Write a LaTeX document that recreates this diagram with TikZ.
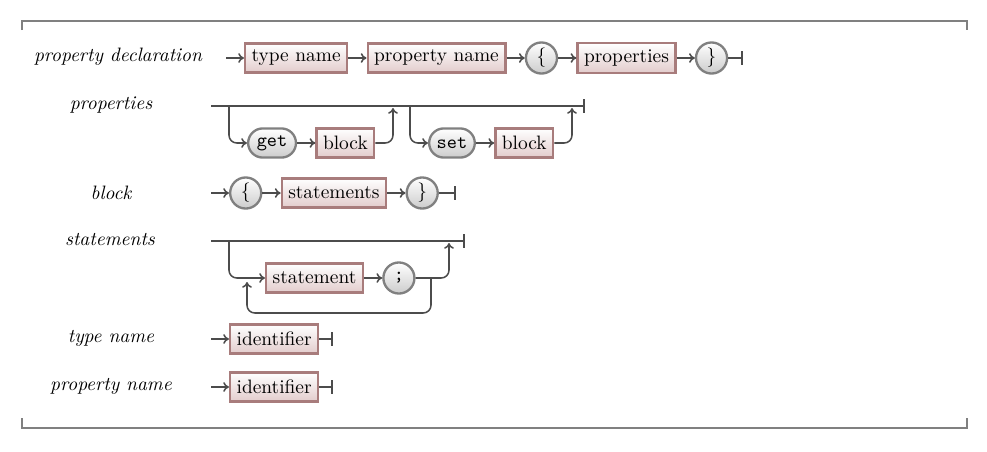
\documentclass[tikz,border=0pt]{standalone}
\usepackage{tikz}
\usetikzlibrary{
  calc,shapes.misc,positioning,
  arrows,arrows.meta
}

\definecolor{ntborder}{RGB}{168,124,124}
\definecolor{ntfill}{RGB}{226,204,204}

\tikzset{
  nonterminal/.style={rectangle,minimum height=15pt,very thick,
    draw=ntborder,top color=white,bottom color=ntfill},
  terminal/.style={rounded rectangle,minimum height=15pt,very thick,
    draw=black!50,top color=white,bottom color=black!20,font=\ttfamily},
  punct/.style={circle,minimum size=16pt,inner sep=1pt,very thick,
    draw=black!50,top color=white,bottom color=black!20},
  rulename/.style={font=\itshape},
  conn/.style={thick,black!70,-{To[length=3pt,width=5pt]}},
  stop/.style={thick,black!70,-{Bar[width=7pt]}},
  frame/.style={line width=1pt,black!50}
}

\begin{document}
\begin{tikzpicture}[x=0.515pt,y=-0.515pt,node distance=9.4pt]
\useasboundingbox (0,0) rectangle (987,451);

\draw[frame] (22,30) |- (967,21) -- (967,30);
\draw[frame] (22,418) |- (967,428) -- (967,418);

% property declaration
\node[rulename] (lb-pd) at (118,57) {property declaration};
\coordinate (pd-in) at (226,58);
\node[nonterminal,anchor=west] (pd-type) at (244,58) {type name};
\node[nonterminal,right=of pd-type] (pd-name) {property name};
\node[punct,right=of pd-name] (pd-open) {\{};
\node[nonterminal,right=of pd-open] (pd-props) {properties};
\node[punct,right=of pd-props] (pd-close) {\}};
\coordinate (pd-end) at (743,58);
\draw[conn] (pd-in) -- (pd-type);
\draw[conn] (pd-type) -- (pd-name);
\draw[conn] (pd-name) -- (pd-open);
\draw[conn] (pd-open) -- (pd-props);
\draw[conn] (pd-props) -- (pd-close);
\draw[stop] (pd-close) -- (pd-end);

% properties
\node[rulename] (lb-pr) at (111,105) {properties};
\coordinate (pr-in) at (211,106);
\coordinate (pr-end) at (585,106);
\coordinate (pr-s1) at (229,106);
\coordinate (pr-j1) at (393,108);
\coordinate (pr-s2) at (410,106);
\coordinate (pr-j2) at (572,108);
\node[terminal,anchor=west] (pr-get) at (247,143) {get};
\node[nonterminal,right=of pr-get] (pr-b1) {block};
\node[terminal,anchor=west] (pr-set) at (428,143) {set};
\node[nonterminal,right=of pr-set] (pr-b2) {block};
\draw[stop] (pr-in) -- (pr-end);
\draw[conn,rounded corners] (pr-s1) |- (pr-get);
\draw[conn] (pr-get) -- (pr-b1);
\draw[conn,rounded corners] (pr-b1) -| (pr-j1);
\draw[conn,rounded corners] (pr-s2) |- (pr-set);
\draw[conn] (pr-set) -- (pr-b2);
\draw[conn,rounded corners] (pr-b2) -| (pr-j2);

% block
\node[rulename] (lb-bl) at (111,193) {block};
\coordinate (bl-in) at (211,193);
\node[punct,anchor=west] (bl-open) at (229,193) {\{};
\node[nonterminal,right=of bl-open] (bl-stmts) {statements};
\node[punct,right=of bl-stmts] (bl-close) {\}};
\coordinate (bl-end) at (456,193);
\draw[conn] (bl-in) -- (bl-open);
\draw[conn] (bl-open) -- (bl-stmts);
\draw[conn] (bl-stmts) -- (bl-close);
\draw[stop] (bl-close) -- (bl-end);

% statements
\node[rulename] (lb-st) at (110,240) {statements};
\coordinate (st-in) at (211,241);
\coordinate (st-end) at (465,241);
\coordinate (st-s) at (229,241);
\coordinate (st-j) at (449,243);
\node[nonterminal,anchor=west] (st-stmt) at (265,278) {statement};
\node[punct,right=of st-stmt] (st-semi) {\texttt{;}};
\coordinate (st-fork) at (431,278);
\coordinate (st-back) at (247,282);
\draw[stop] (st-in) -- (st-end);
\draw[conn,rounded corners] (st-s) |- (st-stmt);
\draw[conn] (st-stmt) -- (st-semi);
\draw[conn,rounded corners] (st-semi) -| (st-j);
\draw[conn,rounded corners] (st-fork) -- ++(0,35) -| (st-back);

% type name
\node[rulename] (lb-tn) at (111,338) {type name};
\coordinate (tn-in) at (211,339);
\node[nonterminal,anchor=west] (tn-id) at (229,339) {identifier};
\coordinate (tn-end) at (333,339);
\draw[conn] (tn-in) -- (tn-id);
\draw[stop] (tn-id) -- (tn-end);

% property name
\node[rulename] (lb-pn) at (111,386) {property name};
\coordinate (pn-in) at (211,387);
\node[nonterminal,anchor=west] (pn-id) at (229,387) {identifier};
\coordinate (pn-end) at (333,387);
\draw[conn] (pn-in) -- (pn-id);
\draw[stop] (pn-id) -- (pn-end);
\end{tikzpicture}
\end{document}
